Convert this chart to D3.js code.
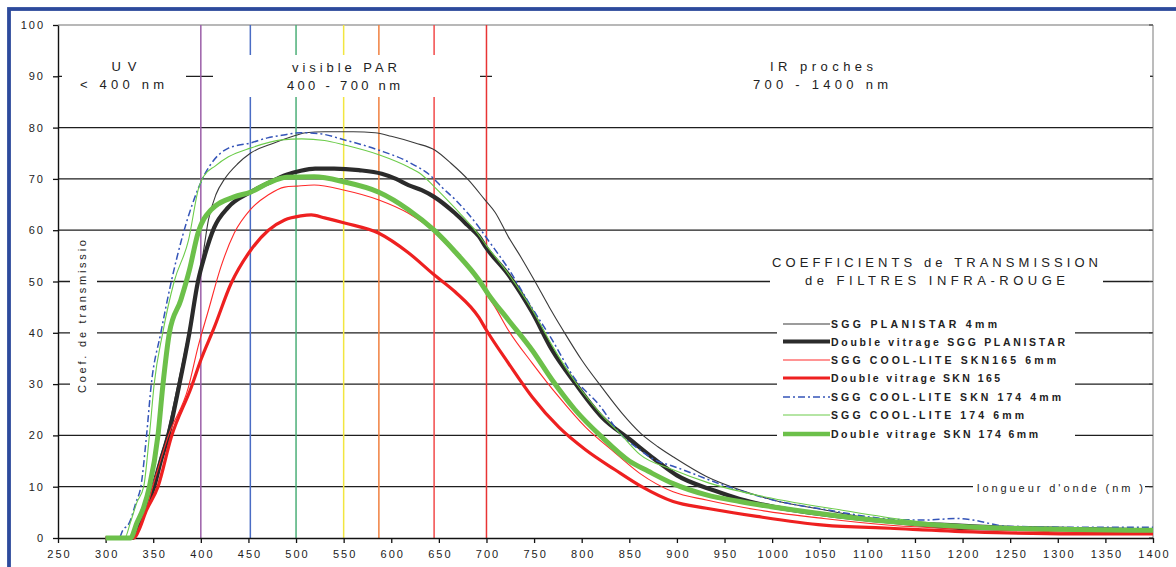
<!DOCTYPE html>
<html><head><meta charset="utf-8">
<script src="https://cdn.jsdelivr.net/npm/d3@7"></script>
<style>
body{margin:0;background:#fff}
svg{display:block}
text{font-family:"Liberation Sans",Arial,Helvetica,sans-serif;fill:#222}
</style>
</head><body>
<svg id="chart" width="1176" height="567"></svg>
<script>
// ---------------- DATA ----------------
const xTicks = [250,300,350,400,450,500,550,600,650,700,750,800,850,900,950,1000,1050,1100,1150,1200,1250,1300,1350,1400];
const yTicks = [0,10,20,30,40,50,60,70,80,90,100];
const markerWavelengths = [400,452,500,550,587,645,700];

const seriesNames = [
  "SGG PLANISTAR 4mm",
  "Double vitrage SGG PLANISTAR",
  "SGG COOL-LITE SKN165 6mm",
  "Double vitrage SKN 165",
  "SGG COOL-LITE SKN 174 4mm",
  "SGG COOL-LITE 174 6mm",
  "Double vitrage SKN 174 6mm"
];

const planistar4 = [[300,0],[325,0],[330,2],[340,6],[348,10],[356,15],[364,20],[376,30],[387,40],[397,50],[402,55],[408,62],[416,67],[425,70],[439,73],[452,75],[477,77],[500,78.5],[510,79],[530,79.2],[560,79.2],[583,79],[600,78.3],[625,77],[646,75.6],[663,73],[681,69.8],[698,66],[709,63.5],[723,58.7],[737,54.5],[751,50],[766,45],[782,40],[800,34.7],[821,29.4],[842,24.4],[862,20.4],[880,17.8],[898,15.6],[931,12],[966,9.4],[1001,7.4],[1054,5.5],[1106,3.8],[1176,2.9],[1250,2.3],[1320,2],[1400,1.8]];

const planistarDouble = [[300,0],[328,0],[335,3],[342,6],[351,10],[358,15],[366,20],[377,29.5],[388,40],[397,50],[404,55],[414,60.5],[429,64.5],[452,67.4],[471,69.2],[490,70.8],[505,71.6],[520,72],[540,72],[566,71.7],[590,71],[605,70],[618,68.8],[632,67.8],[645,66.5],[667,63.3],[680,61],[692,58.8],[700,56.5],[723,51.3],[748,44],[769,36.6],[793,30.2],[821,23.6],[850,19.3],[877,15.3],[900,12.2],[940,9.2],[966,7.6],[1019,5.5],[1071,4.2],[1141,2.9],[1211,1.9],[1300,1.8],[1400,1.5]];

const skn165_6 = [[300,0],[328,0],[333,1],[340,4],[351,11],[366,20],[387,29.4],[397,37.2],[408,44.4],[421,52.8],[435,59.4],[452,64],[471,66.9],[488,68.4],[501,68.6],[519,68.8],[551,67.8],[587,65.9],[618,63.3],[645,59.7],[667,55.4],[688,51.3],[700,47.5],[709,45],[723,40.5],[748,34.1],[776,27.5],[804,21.6],[835,16.6],[861,12.6],[896,9],[931,7.4],[984,5.5],[1054,3.8],[1124,2.5],[1211,1.7],[1300,1.2],[1400,1.0]];

const skn165Double = [[300,0],[330,0],[336,2],[342,5],[355,10],[369,19.7],[390,29.4],[400,34.7],[414,41],[432,49.7],[452,56],[471,60],[488,62],[505,62.8],[516,63],[530,62.4],[551,61.4],[587,59.4],[618,55.6],[645,51.3],[667,48],[692,43],[700,40.5],[723,34.1],[748,27.5],[776,21.6],[804,17.2],[835,13.3],[863,10],[896,7.1],[931,5.8],[984,4.2],[1054,2.5],[1124,1.9],[1211,1.2],[1316,0.8],[1400,0.8]];

const skn174_4 = [[300,0],[314,0],[318,1.5],[325,3],[332,7],[337,10],[343,20],[348,30],[358,40],[369,50],[381,59],[391,65],[397,68],[403,70.5],[411,73],[429,76],[452,77],[470,78],[485,78.5],[505,79],[525,78.8],[551,77.6],[587,75.6],[618,73.3],[645,70],[653,68.4],[667,66],[692,60.6],[702,58],[723,52.5],[744,46],[769,38.6],[793,31],[818,26],[842,20],[861,17.2],[877,15.2],[896,14],[949,10.3],[1001,7.4],[1057,5.5],[1124,3.7],[1160,3.5],[1194,3.8],[1211,3.5],[1246,2.3],[1316,2.1],[1400,2.1]];

const cl174_6 = [[300,0],[320,0],[326,3],[333,7],[340,10],[346,20],[351,30],[360,40],[372,50],[387,58],[398,68.4],[403,70.5],[415,72.5],[429,74.3],[452,76],[485,77.6],[506,77.8],[530,77.5],[551,76.6],[587,74.7],[618,72.3],[632,70.8],[645,68.5],[667,64.3],[688,60],[700,57],[723,51.5],[748,44.5],[769,37.5],[793,30.5],[821,24],[842,20],[861,16.3],[896,13.3],[934,10.7],[1001,7.7],[1071,5.5],[1141,3.5],[1211,2.2],[1300,1.9],[1400,1.8]];

const skn174Double = [[300,0],[326,0],[333,3],[340,6],[346,10],[355,20],[360,29.5],[367,40],[379,46.4],[388,52.2],[397,59.4],[411,64],[435,66.5],[452,67.4],[471,69.2],[490,70.3],[519,70.4],[551,69.4],[587,67.4],[618,64],[645,60],[667,55.8],[692,50.3],[702,47.5],[723,42.5],[748,36.6],[769,30.8],[793,25],[821,19.7],[850,15],[870,13],[896,10.6],[931,8.4],[966,7.1],[1036,5.1],[1106,3.5],[1176,2.5],[1246,1.9],[1400,1.5]];

const allSeries = [planistar4, planistarDouble, skn165_6, skn165Double, skn174_4, cl174_6, skn174Double];

// ---------------- STYLES ----------------
const markerColors = ["#9b5fa8","#4a6cc4","#4caf78","#f2e640","#f08040","#f24a4a","#e83434"];
const seriesStyles = [
  {color:"#3a3a3a", width:1.1, dash:null},
  {color:"#2b2b2b", width:4.2, dash:null},
  {color:"#ff2a2a", width:1.1, dash:null},
  {color:"#ee2020", width:3.2, dash:null},
  {color:"#3454b8", width:1.5, dash:"7,3,2,3"},
  {color:"#6ccc4a", width:1.1, dash:null},
  {color:"#6cc04a", width:5, dash:null}
];

// ---------------- CHART ----------------
const svg = d3.select("#chart");
const x = d3.scaleLinear().domain([250,1400]).range([58,1153]);
const y = d3.scaleLinear().domain([0,100]).range([538,25]);

// blue frame (left and top visible)
svg.append("rect").attr("x",9).attr("y",9).attr("width",1200).attr("height",600)
  .attr("fill","none").attr("stroke","#2d4a9c").attr("stroke-width",3.8);

// gridlines
svg.append("g").selectAll("line").data(yTicks.filter(d=>d>0 && d<100)).join("line")
  .attr("x1",x(250)).attr("x2",x(1400)).attr("y1",d=>y(d)).attr("y2",d=>y(d))
  .attr("stroke","#1e1e1e").attr("stroke-width",1.3);
// top and right border
svg.append("line").attr("x1",x(250)).attr("x2",x(1400)).attr("y1",y(100)).attr("y2",y(100))
  .attr("stroke","#a0a0a0").attr("stroke-width",1.4);
svg.append("line").attr("x1",x(1400)).attr("x2",x(1400)).attr("y1",y(100)).attr("y2",y(0))
  .attr("stroke","#a0a0a0").attr("stroke-width",1.4);
// right inner ticks
svg.append("g").selectAll("line").data(yTicks).join("line")
  .attr("x1",x(1400)-4).attr("x2",x(1400)).attr("y1",d=>y(d)).attr("y2",d=>y(d))
  .attr("stroke","#333").attr("stroke-width",1);

// coloured wavelength markers
svg.append("g").selectAll("line").data(markerWavelengths).join("line")
  .attr("x1",d=>x(d)).attr("x2",d=>x(d)).attr("y1",y(100)).attr("y2",y(0))
  .attr("stroke",(d,i)=>markerColors[i]).attr("stroke-width",1.5);

// white text boxes (hide gridlines behind labels)
const boxes = [
  [62,55,124,42],[213,55,267,42],[492,55,658,42],
  [70,236,27,159],[770,246,333,46],[777,312,298,133],[973,478,172,20]
];
svg.append("g").selectAll("rect").data(boxes).join("rect")
  .attr("x",d=>d[0]).attr("y",d=>d[1]).attr("width",d=>d[2]).attr("height",d=>d[3]).attr("fill","#fff");

// axes
const yAxis = d3.axisLeft(y).tickValues(yTicks).tickFormat(d3.format("d")).tickSize(5).tickSizeOuter(0).tickPadding(8);
const gy = svg.append("g").attr("transform",`translate(${x(250)},0)`).call(yAxis);
gy.select(".domain").attr("stroke","#111").attr("stroke-width",1.4);
gy.selectAll(".tick line").attr("stroke","#111").attr("stroke-width",1.3);
gy.selectAll(".tick text").attr("font-size",11).attr("letter-spacing","2px").attr("fill","#333")
  .attr("font-family",'"Liberation Sans",Arial,sans-serif');

const xAxis = d3.axisBottom(x).tickValues(xTicks).tickFormat(d3.format("d")).tickSize(5).tickSizeOuter(0).tickPadding(7);
const gx = svg.append("g").attr("transform",`translate(0,${y(0)})`).call(xAxis);
gx.select(".domain").attr("stroke","#111").attr("stroke-width",1.5);
gx.selectAll(".tick line").attr("stroke","#111").attr("stroke-width",1.3);
gx.selectAll(".tick text").attr("font-size",11).attr("letter-spacing","2px").attr("fill","#333")
  .attr("font-family",'"Liberation Sans",Arial,sans-serif').attr("dx","1px");

// curves
const line = d3.line().x(d=>x(d[0])).y(d=>y(d[1])).curve(d3.curveMonotoneX);
svg.append("g").selectAll("path").data(allSeries).join("path")
  .attr("d",line).attr("fill","none")
  .attr("stroke",(d,i)=>seriesStyles[i].color)
  .attr("stroke-width",(d,i)=>seriesStyles[i].width)
  .attr("stroke-dasharray",(d,i)=>seriesStyles[i].dash)
  .attr("stroke-linejoin","round");

// labels
function label(txt, cx, by, w, size, weight, anchor){
  const t = svg.append("text").attr("x",cx).attr("y",by).text(txt)
    .attr("font-size",size).attr("text-anchor",anchor||"middle");
  if (w) t.attr("textLength",w).attr("lengthAdjust","spacing");
  if (weight) t.attr("font-weight",weight);
  return t;
}
label("UV",124,71,25,13);
label("< 400 nm",122,89,84,13);
label("visible PAR",344.5,72,105,13);
label("400 - 700 nm",343.5,89.5,113,13);
label("IR proches",821.5,71,103,13);
label("700 - 1400 nm",820.5,89,135,13);
label("COEFFICIENTS de TRANSMISSION",935,267,326,13);
label("de FILTRES INFRA-ROUGE",935,285,260,13);
label("longueur d'onde  (nm )",977,492,166,11,null,"start");

svg.append("text").attr("transform","translate(86,316.5) rotate(-90)")
  .attr("text-anchor","middle").attr("font-size",11)
  .attr("textLength",153).attr("lengthAdjust","spacing").text("Coef. de transmissio");

// legend
const legY = [324,341.5,360,378,397,415,434];
const legW = [166,234,225,169,230,193,207];
const leg = svg.append("g");
seriesNames.forEach((n,i)=>{
  const s = seriesStyles[i];
  leg.append("line").attr("x1",783).attr("x2",830).attr("y1",legY[i]).attr("y2",legY[i])
    .attr("stroke",s.color).attr("stroke-width",Math.min(s.width,4.5)).attr("stroke-dasharray",s.dash);
  leg.append("text").attr("x",831).attr("y",legY[i]+4).attr("font-size",10.5).attr("font-weight","bold")
    .attr("fill","#333").attr("textLength",legW[i]).attr("lengthAdjust","spacing").text(n);
});
</script>
</body></html>
